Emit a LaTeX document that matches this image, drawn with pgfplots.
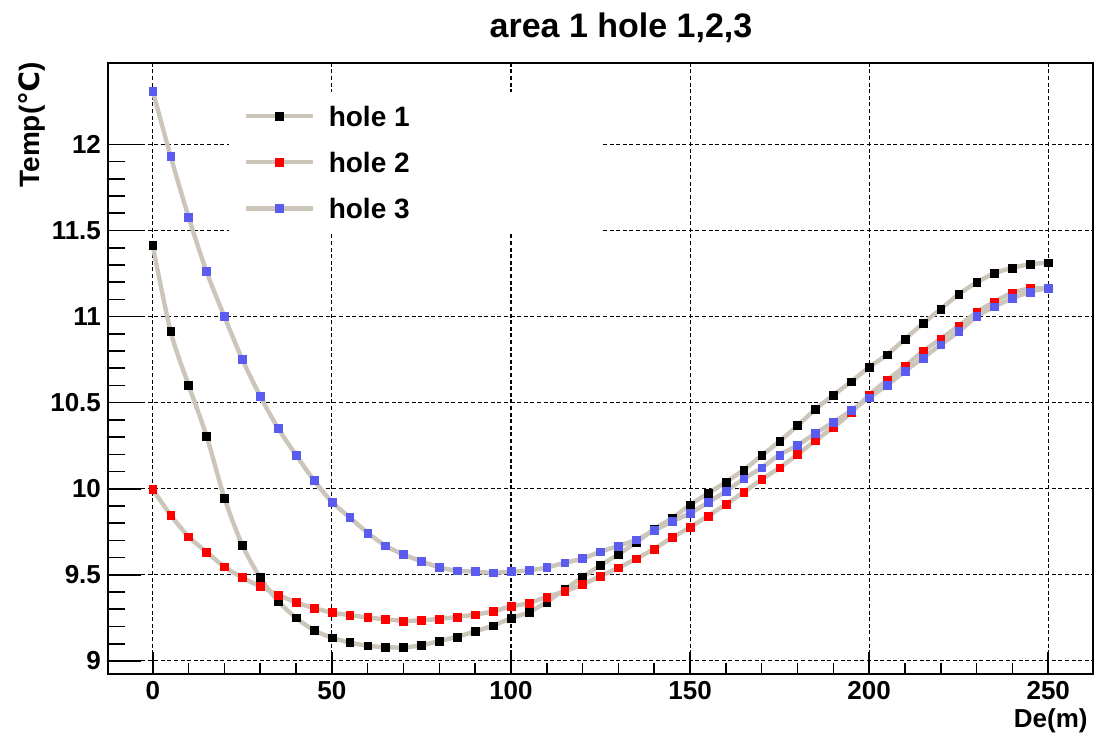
\documentclass[border=0pt]{standalone}
\usepackage{fontspec}
\setmainfont{Liberation Sans}
\newfontfamily\dejavu{DejaVu Sans}
\usepackage{pgfplots}
\pgfplotsset{compat=1.18}
\usepackage{pgfplotstable}

\definecolor{linetan}{RGB}{204,198,186}
\definecolor{hblue}{RGB}{90,92,240}

\pgfplotstableread{
x y1 y2 y3
0 11.413 9.996 12.310
5 10.913 9.847 11.930
10 10.602 9.722 11.578
15 10.307 9.633 11.262
20 9.947 9.547 11.000
25 9.673 9.484 10.751
30 9.484 9.433 10.538
35 9.347 9.384 10.351
40 9.251 9.340 10.196
45 9.178 9.307 10.049
50 9.135 9.281 9.924
55 9.107 9.266 9.833
60 9.088 9.252 9.744
65 9.080 9.242 9.669
70 9.078 9.233 9.618
75 9.091 9.236 9.579
80 9.115 9.244 9.543
85 9.140 9.256 9.524
90 9.172 9.269 9.519
95 9.205 9.288 9.512
100 9.248 9.316 9.519
105 9.283 9.336 9.526
110 9.343 9.372 9.543
115 9.415 9.404 9.570
120 9.487 9.444 9.595
125 9.555 9.493 9.634
130 9.620 9.541 9.668
135 9.688 9.594 9.704
140 9.766 9.651 9.757
145 9.830 9.717 9.810
150 9.906 9.776 9.858
155 9.973 9.842 9.920
160 10.039 9.909 9.985
165 10.110 9.981 10.058
170 10.193 10.054 10.122
175 10.276 10.122 10.197
180 10.367 10.199 10.252
185 10.461 10.280 10.322
190 10.544 10.357 10.386
195 10.622 10.442 10.455
200 10.706 10.545 10.529
205 10.779 10.630 10.602
210 10.869 10.712 10.683
215 10.960 10.798 10.760
220 11.044 10.871 10.837
225 11.129 10.946 10.913
230 11.198 11.025 11.000
235 11.252 11.087 11.058
240 11.283 11.138 11.106
245 11.304 11.163 11.144
250 11.313 11.163 11.167
}\data

\begin{document}
\begin{tikzpicture}
\begin{axis}[
  scale only axis, width=492.5pt, height=305.5pt,
  xmin=-12.5, xmax=262.5, ymin=8.924, ymax=12.473,
  xtick={0,50,100,150,200,250},
  ytick={9,9.5,10,10.5,11,11.5,12},
  minor x tick num=4, minor y tick num=4,
  tick align=inside, tick pos=left,
  major tick length=11pt, minor tick length=5.5pt,
  tick style={black, line width=0.8pt},
  axis line style={black, line width=0.9pt},
  grid=major,
  major grid style={black, line width=0.55pt, dash pattern=on 2pt off 1.3pt},
  tick label style={font=\fontsize{13}{13}\selectfont\bfseries},
  /pgf/number format/assume math mode=true,
  legend cell align=left,
  legend style={at={(0.1228,0.9525)}, anchor=north west, draw=none, fill=white,
    inner xsep=7pt, inner ysep=6.7pt, row sep=13pt, column sep=7pt,
    font=\fontsize{14}{14}\selectfont\bfseries,
    nodes={inner sep=0pt, text depth=0pt}},
  legend image code/.code={\draw[mark repeat=2,mark phase=2] plot coordinates {(0pt,0pt) (16.75pt,0pt) (33.5pt,0pt)};},
]
\addplot[linetan, line width=2.2pt, smooth, mark=square*, mark size=1.95pt,
  mark options={fill=black, draw=black, line width=0.2pt}] table[x=x, y=y1] {\data};
\addlegendentry{\makebox[130pt][l]{hole 1}}
\addplot[linetan, line width=2.2pt, smooth, mark=square*, mark size=1.95pt,
  mark options={fill=red, draw=red, line width=0.2pt}] table[x=x, y=y2] {\data};
\addlegendentry{\makebox[130pt][l]{hole 2}}
\addplot[linetan, line width=2.2pt, smooth, mark=square*, mark size=1.95pt,
  mark options={fill=hblue, draw=hblue, line width=0.2pt}] table[x=x, y=y3] {\data};
\addlegendentry{\makebox[130pt][l]{hole 3}}
\end{axis}
\begin{axis}[
  scale only axis, width=492.5pt, height=305.5pt,
  xmin=-12.5, xmax=262.5, ymin=8.924, ymax=12.473,
  xtick=\empty, ytick={9,9.5,10,10.5,11,11.5,12}, yticklabels={},
  minor y tick num=4,
  tick align=inside, tick pos=left,
  major tick length=16.5pt, minor tick length=8.25pt,
  tick style={black, line width=0.8pt},
  axis line style={draw=none},
]
\end{axis}
\node[font=\fontsize{17}{17}\selectfont\bfseries, anchor=base] at (256.5pt,318.25pt) {area 1 hole 1,2,3};
\node[font=\fontsize{14}{14}\selectfont\bfseries, rotate=90, anchor=base east, inner sep=0pt] at (-34pt,306pt) {Temp({\dejavu\bfseries ℃})};
\node[font=\fontsize{13}{13}\selectfont\bfseries, anchor=base east, inner sep=0pt] at (490pt,-26.5pt) {De(m)};
\pgfresetboundingbox
\path (-54pt,-33pt) rectangle (494.5pt,337pt);
\end{tikzpicture}
\end{document}
